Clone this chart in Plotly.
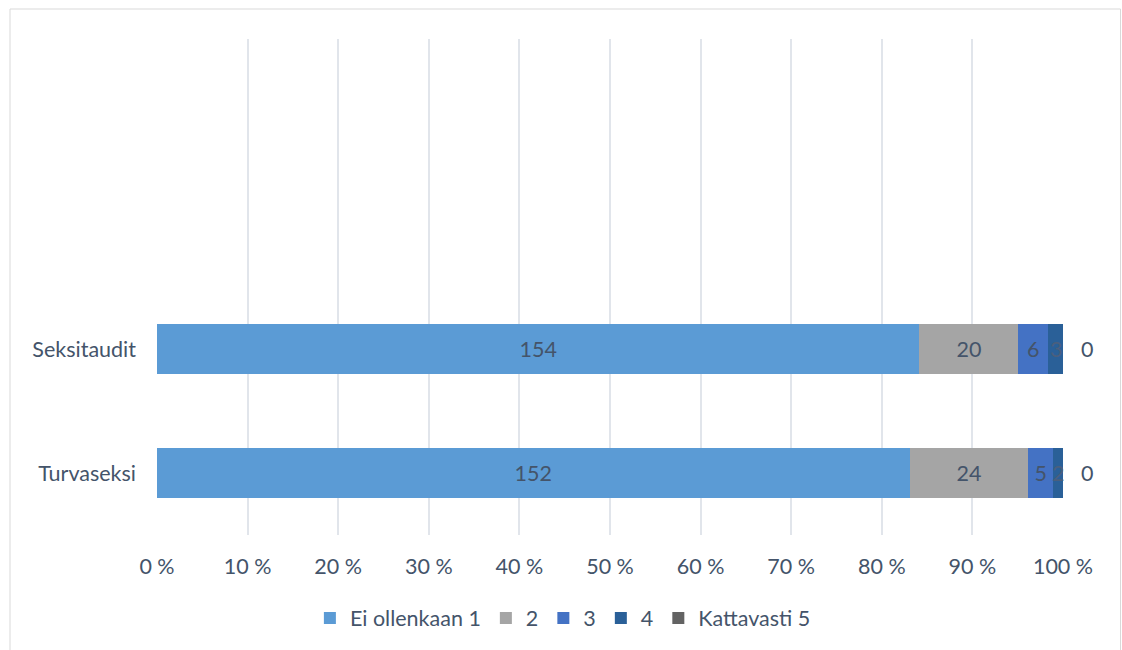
import plotly.graph_objects as go

categories = ["Turvaseksi", "Seksitaudit"]
series_names = ["Ei ollenkaan 1", "2", "3", "4", "Kattavasti 5"]
values_1 = [152, 154]
values_2 = [24, 20]
values_3 = [5, 6]
values_4 = [2, 3]
values_5 = [0, 0]
x_tick_vals = [0, 10, 20, 30, 40, 50, 60, 70, 80, 90, 100]
x_tick_text = ["0 %", "10 %", "20 %", "30 %", "40 %", "50 %", "60 %", "70 %", "80 %", "90 %", "100 %"]

colors = ["#5B9BD5", "#A5A5A5", "#4472C4", "#2A6098", "#636363"]
all_values = [values_1, values_2, values_3, values_4, values_5]
text_color = "#44546A"
font_family = "Lato, Open Sans, sans-serif"
FS = 21.5

ypos = list(range(len(categories)))
totals = [sum(v[i] for v in all_values) for i in ypos]

fig = go.Figure()
for k, (name, vals, col) in enumerate(zip(series_names, all_values, colors)):
    pct = [v / t * 100 for v, t in zip(vals, totals)]
    inside = k < 3
    fig.add_trace(go.Bar(
        y=ypos, x=pct, orientation="h", name=name,
        marker=dict(color=col, line=dict(width=0)),
        width=0.4,
        text=[str(v) for v in vals] if inside else None,
        textposition="inside" if inside else "none",
        insidetextanchor="middle",
        constraintext="none", textangle=0,
        textfont=dict(color=text_color, size=FS, family=font_family),
        hoverinfo="x+name",
    ))

# labels of the narrow 4th series, centred on its segment
for i in ypos:
    before = sum(all_values[k][i] for k in range(3))
    mid = (before + values_4[i] / 2) / totals[i] * 100
    fig.add_annotation(x=mid, y=i, text=str(values_4[i]), showarrow=False,
                       font=dict(color="#4A5F7E", size=FS, family=font_family))

# zero-value labels of the last series, placed at the end of each stack
for i in ypos:
    end = sum(v[i] for v in all_values) / totals[i] * 100
    fig.add_annotation(x=end, y=i, text=str(values_5[i]), showarrow=False,
                       xshift=24, font=dict(color=text_color, size=FS, family=font_family))

W, H = 1122, 650
L, T = 157, 39
R = W - 1063
B = H - 535
pw, ph = W - L - R, H - T - B
fig.add_shape(type="rect", xref="paper", yref="paper",
              x0=(10 - L) / pw, x1=(1120.5 - L) / pw,
              y0=-0.4, y1=(535 - 9) / ph,
              line=dict(color="#D9D9D9", width=1), fillcolor="rgba(0,0,0,0)", layer="below")

fig.update_layout(
    width=W, height=H,
    margin=dict(l=L, r=R, t=T, b=B),
    barmode="stack",
    paper_bgcolor="white", plot_bgcolor="white",
    font=dict(family=font_family, color=text_color, size=FS),
    showlegend=True,
    legend=dict(orientation="h", x=0.448, xanchor="center", y=-(618 - 535) / ph, yanchor="middle",
                traceorder="normal", font=dict(size=FS, color=text_color, family=font_family),
                itemwidth=30),
    xaxis=dict(range=[0, 100], tickvals=x_tick_vals, ticktext=x_tick_text,
               showgrid=True, gridcolor="#E1E5EB", gridwidth=1.5, zeroline=False,
               showline=False, ticks="", ticklabelstandoff=16,
               tickfont=dict(size=FS, color=text_color), fixedrange=True),
    yaxis=dict(range=[-0.5, 3.5], tickvals=ypos, ticktext=categories,
               showgrid=False, zeroline=False, showline=False, ticks="",
               ticklabelstandoff=20, tickfont=dict(size=FS, color=text_color), fixedrange=True),
)

fig.write_html("out.html", config={"displayModeBar": False},
               post_script="document.body.style.margin='0';document.body.style.overflow='hidden';")
